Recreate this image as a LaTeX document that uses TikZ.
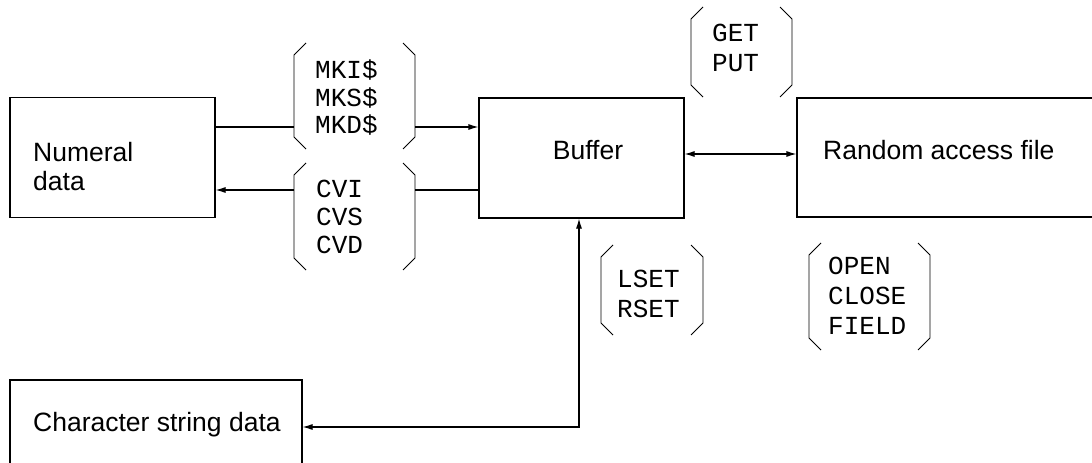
\documentclass[tikz,border=0pt]{standalone}
\usepackage{fontspec}
\setmainfont{Liberation Sans}
\newfontfamily\monof{Liberation Mono}
\usetikzlibrary{arrows.meta}
\tikzset{
  box/.style={draw, line width=1.1pt, inner sep=0pt},
  sanstext/.style={inner sep=0pt, font=\fontsize{26.5}{29}\selectfont, align=left},
  monotext/.style={inner sep=0pt, font=\monof\fontsize{26}{30}\selectfont, align=left, anchor=base west},
  conn/.style={line width=1.1pt},
  tip/.style={-{Latex[length=10pt,width=6pt]}},
  brk/.style={line width=0.9pt},
}
\newcommand\bracketpair[4]{%
  \draw[brk] (#1+12,#2) -- (#1,#2+12) -- (#1,#4-12) -- (#1+12,#4);
  \draw[brk] (#3-12,#2) -- (#3,#2+12) -- (#3,#4-12) -- (#3-12,#4);}
\begin{document}
\begin{tikzpicture}[x=1pt,y=-1pt]
\path[use as bounding box, clip] (0,0) rectangle (1092,463);
\fill[white] (0,0) rectangle (1092,463);
% boxes
\node[box, minimum width=205pt, minimum height=120pt] (num) at (112.5,157.5) {};
\node[box, minimum width=205pt, minimum height=120pt] (buf) at (581.5,158) {};
\node[box, minimum width=320pt, minimum height=119pt] (rnd) at (957,157.5) {};
\node[box, minimum width=292pt, minimum height=110pt] (chr) at (156,435) {};
% box texts (base = baseline of last line)
\node[sanstext, anchor=base west] (numT) at (33,190) {Numeral\\data};
\node[sanstext, anchor=base] (bufT) at (588,159) {Buffer};
\node[sanstext, anchor=base west] (rndT) at (823,159) {Random access file};
\node[sanstext, anchor=base west] (chrT) at (33,431) {Character string data};
% bracket texts (base = baseline of last line)
\node[monotext, font=\monof\fontsize{26}{27.5}\selectfont] (mk) at (315,133.5) {MKI\$\\MKS\$\\MKD\$};
\node[monotext, font=\monof\fontsize{26}{28}\selectfont] (cv) at (316,253.5) {CVI\\CVS\\CVD};
\node[monotext] (gp) at (712,71.5) {GET\\PUT};
\node[monotext] (ls) at (617,317.5) {LSET\\RSET};
\node[monotext] (oc) at (828,334.5) {OPEN\\CLOSE\\FIELD};
% brackets
\bracketpair{294}{43}{415}{149}
\bracketpair{294}{163}{415}{270}
\bracketpair{691}{7}{792}{97}
\bracketpair{601}{245}{703}{335}
\bracketpair{809}{243}{930}{350}
% coordinates
\coordinate (mkL) at (294,127);
\coordinate (mkR) at (415,127);
\coordinate (cvL) at (294,190);
\coordinate (cvR) at (415,190);
\coordinate (gpY) at (0,154);
\coordinate (chY) at (0,427);
\coordinate (vX) at (579,0);
% connectors
\draw[conn] (num.east |- mkL) -- (mkL);
\draw[conn, tip] (mkR) -- (buf.west |- mkR);
\draw[conn] (buf.west |- cvR) -- (cvR);
\draw[conn, tip] (cvL) -- (num.east |- cvL);
\draw[conn, {Latex[length=10pt,width=6pt]}-{Latex[length=10pt,width=6pt]}] (buf.east |- gpY) -- (rnd.west |- gpY);
\draw[conn, {Latex[length=10pt,width=6pt]}-{Latex[length=10pt,width=6pt]}] (chr.east |- chY) -| (buf.south -| vX);
\end{tikzpicture}
\end{document}
